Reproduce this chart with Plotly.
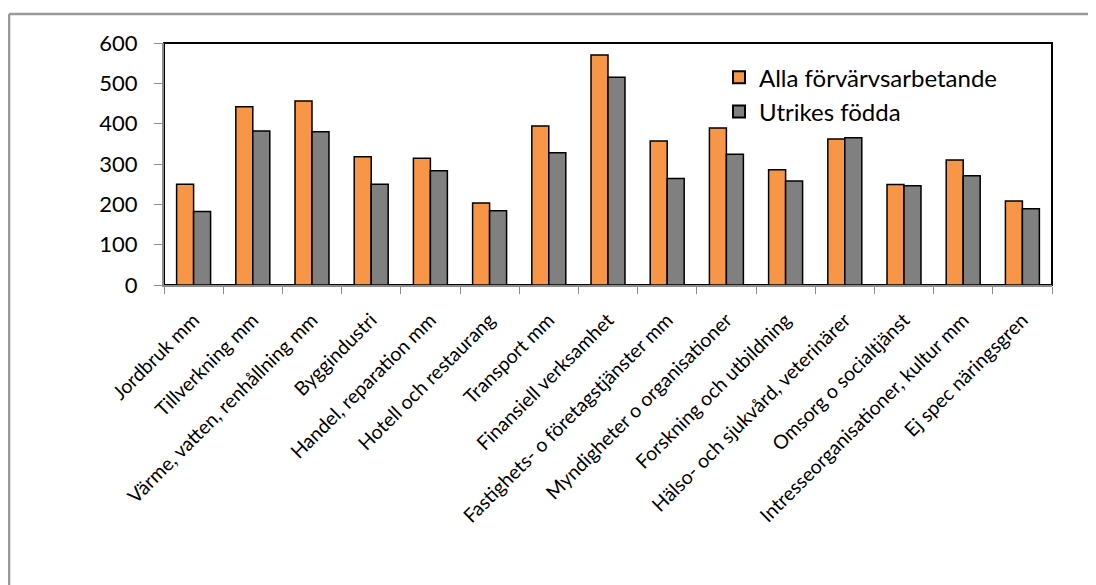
import plotly.graph_objects as go

categories = [
    "Jordbruk mm", "Tillverkning mm", "Värme, vatten, renhållning mm", "Byggindustri",
    "Handel, reparation mm", "Hotell och restaurang", "Transport mm", "Finansiell verksamhet",
    "Fastighets- o företagstjänster mm", "Myndigheter o organisationer", "Forskning och utbildning",
    "Hälso- och sjukvård, veterinärer", "Omsorg o socialtjänst", "Intresseorganisationer, kultur mm",
    "Ej spec näringsgren",
]
alla = [250, 442, 456, 318, 314, 203, 394, 570, 357, 389, 286, 362, 249, 310, 208]
utrikes = [182, 382, 380, 250, 283, 184, 328, 515, 264, 324, 258, 365, 246, 271, 189]
series_names = ["Alla förvärvsarbetande", "Utrikes födda"]
y_ticks = [0, 100, 200, 300, 400, 500, 600]

FONT = "Lato"

fig = go.Figure()
fig.add_trace(go.Bar(x=categories, y=alla, name=series_names[0],
                     marker=dict(color="#F79646", line=dict(color="black", width=1.5))))
fig.add_trace(go.Bar(x=categories, y=utrikes, name=series_names[1],
                     marker=dict(color="#808080", line=dict(color="black", width=1.5))))

fig.update_layout(
    width=1088, height=577,
    margin=dict(l=156, r=44, t=35, b=300),
    paper_bgcolor="white", plot_bgcolor="white",
    barmode="group", bargap=0.426, bargroupgap=0,
    font=dict(family=FONT, color="black"),
    legend=dict(x=0.625, y=0.95, xanchor="left", yanchor="top",
                font=dict(size=24, family=FONT), bgcolor="rgba(0,0,0,0)",
                tracegroupgap=0, itemsizing="constant"),
    xaxis=dict(type="category", tickangle=-45, tickfont=dict(size=19.5, family=FONT),
               showline=True, linecolor="#8c8c8c", linewidth=2,
               ticks="outside", tickson="boundaries", ticklen=7, tickcolor="#8c8c8c", tickwidth=1,
               ticklabelstandoff=14,
               showgrid=False, automargin=False),
    yaxis=dict(range=[0, 600], tickvals=y_ticks, tickfont=dict(size=22, family=FONT),
               showline=True, linecolor="#8c8c8c", linewidth=2,
               ticks="outside", ticklen=8, tickcolor="#8c8c8c",
               ticklabelstandoff=12,
               showgrid=False, zeroline=False, automargin=False),
    shapes=[
        dict(type="rect", xref="paper", yref="paper", x0=0, x1=1, y0=0, y1=1,
             line=dict(color="black", width=2), layer="below"),
        dict(type="line", xref="paper", yref="paper", x0=-0.1745, x1=-0.1745, y0=1.12, y1=-1.3,
             line=dict(color="#9a9a9a", width=2.5)),
        dict(type="line", xref="paper", yref="paper", x0=-0.1745, x1=1.1, y0=1.12, y1=1.12,
             line=dict(color="#9a9a9a", width=2.5)),
    ],
)

fig.write_html("out.html")
